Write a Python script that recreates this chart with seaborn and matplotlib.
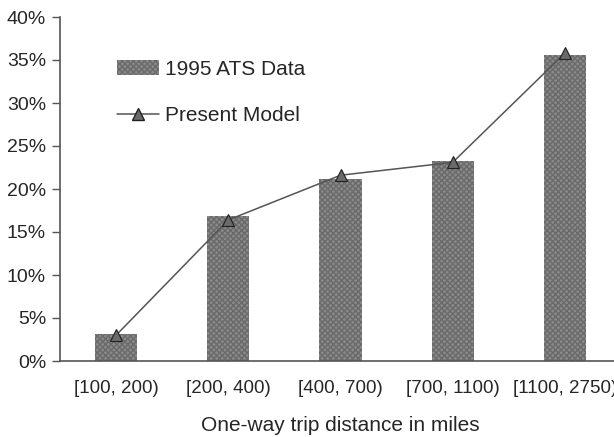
import matplotlib
matplotlib.use('Agg')
import matplotlib.pyplot as plt
import matplotlib.patches as mpatches
from matplotlib.lines import Line2D
import seaborn as sns
import pandas as pd

categories = ['[100, 200)', '[200, 400)', '[400, 700)', '[700, 1100)', '[1100, 2750)']
ats_data = [3.1, 16.9, 21.2, 23.3, 35.6]
model_data = [3.0, 16.4, 21.6, 23.1, 35.8]
y_ticks = [0, 5, 10, 15, 20, 25, 30, 35, 40]

sns.set_style('white')
plt.rcParams['font.family'] = ['Liberation Sans', 'DejaVu Sans']

df = pd.DataFrame({'Distance': categories, 'ATS': ats_data, 'Model': model_data})

fig = plt.figure(figsize=(6.14, 4.37), dpi=100)
# axes run past the right edge, so the last label is clipped like the original
ax = fig.add_axes([60 / 614, (437 - 361) / 437, (621 - 60) / 614, (361 - 17) / 437])

sns.barplot(data=df, x='Distance', y='ATS', ax=ax, color='#8a8a8a',
            width=0.375, saturation=1, linewidth=0)
for bar in ax.patches:
    bar.set_hatch('xxxxxx')
    bar.set_edgecolor('#6a6a6a')
    bar.set_linewidth(0)

sns.pointplot(data=df, x='Distance', y='Model', ax=ax, color='#555555',
              markers='^', linestyles='-', markersize=8, linewidth=1.1,
              markeredgecolor='#222222', markerfacecolor='#6a6a6a')

ax.set_ylim(0, 40)
ax.set_xlim(-0.5, 4.5)
ax.set_yticks(y_ticks)
ax.set_yticklabels([f'{t}%' for t in y_ticks])
ax.set_ylabel('')
ax.set_xlabel('One-way trip distance in miles', fontsize=15, labelpad=14)

for side in ['top', 'right']:
    ax.spines[side].set_visible(False)
for side in ['left', 'bottom']:
    ax.spines[side].set_color('#555555')
    ax.spines[side].set_linewidth(1.2)
ax.tick_params(axis='y', left=True, length=6, width=1, color='#555555',
               labelsize=14, pad=4)
ax.tick_params(axis='x', bottom=False, labelsize=13.5, pad=10)

handles = [
    mpatches.Patch(facecolor='#8a8a8a', hatch='xxxxxx', edgecolor='#6a6a6a',
                   linewidth=0, label='1995 ATS Data'),
    Line2D([0], [0], color='#555555', marker='^', markersize=8, linewidth=1.1,
           markeredgecolor='#222222', markerfacecolor='#6a6a6a', label='Present Model'),
]
ax.legend(handles=handles, loc='upper left', bbox_to_anchor=(0.069, 0.93),
          frameon=False, fontsize=15, labelspacing=1.3, handlelength=2.0,
          handletextpad=0.3)

fig.savefig('out.png', dpi=100)
